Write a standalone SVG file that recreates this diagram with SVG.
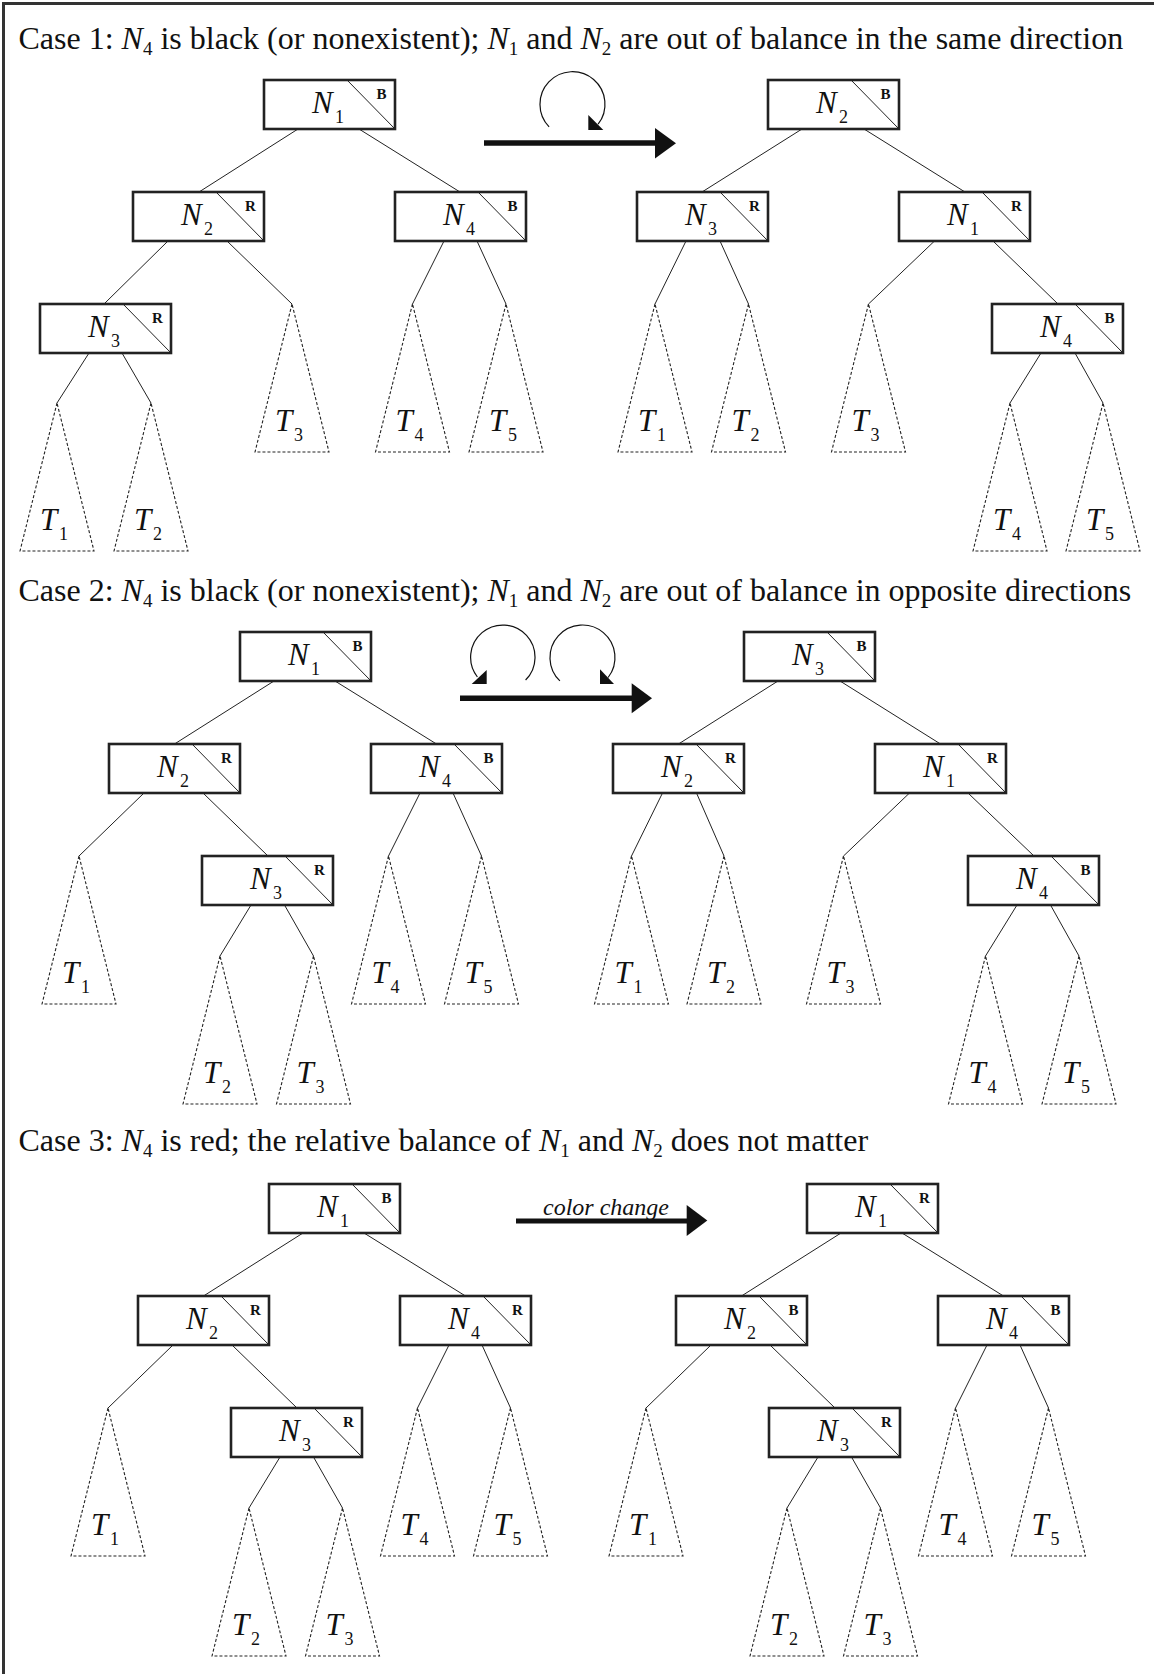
<svg xmlns="http://www.w3.org/2000/svg" width="1154" height="1674" viewBox="0 0 1154 1674">
<style>
.frame{fill:none;stroke:#333;stroke-width:3}
.box{fill:#fff;stroke:#222;stroke-width:2.6}
.diag{stroke:#222;stroke-width:1}
.edge{stroke:#222;stroke-width:1;fill:none}
.tri{fill:none;stroke:#222;stroke-width:1.1;stroke-dasharray:3 2}
.lbl{font-family:"Liberation Serif",serif;font-style:italic;font-size:31px;fill:#111}
.sub{font-family:"Liberation Serif",serif;font-style:normal;font-size:18px;fill:#111}
.col{font-family:"Liberation Serif",serif;font-weight:bold;font-size:15px;text-anchor:middle;fill:#111}
.title{font-family:"Liberation Serif",serif;font-size:32px;fill:#111}
.ts{font-size:19px}
.big{stroke:#111;stroke-width:5.5;fill:none}
.head{fill:#111}
.rot{stroke:#111;stroke-width:1.2;fill:none}
</style>
<defs>
<rect id="bx" class="box" width="131" height="49"/>
<line id="dg" class="diag" x1="83" y1="0" x2="131" y2="49"/>
<polygon id="tr" class="tri" points="0,0 -37,148 37,148"/>
</defs>
<rect class="frame" x="3.5" y="3.5" width="1170" height="1690"/>

<!-- Titles -->
<text class="title" x="18.5" y="48.5">Case 1: <tspan font-style="italic">N</tspan><tspan class="ts" dy="6">4</tspan><tspan dy="-6"> is black (or nonexistent); </tspan><tspan font-style="italic">N</tspan><tspan class="ts" dy="6">1</tspan><tspan dy="-6"> and </tspan><tspan font-style="italic">N</tspan><tspan class="ts" dy="6">2</tspan><tspan dy="-6"> are out of balance in the same direction</tspan></text>
<text class="title" x="18.5" y="600.5">Case 2: <tspan font-style="italic">N</tspan><tspan class="ts" dy="6">4</tspan><tspan dy="-6"> is black (or nonexistent); </tspan><tspan font-style="italic">N</tspan><tspan class="ts" dy="6">1</tspan><tspan dy="-6"> and </tspan><tspan font-style="italic">N</tspan><tspan class="ts" dy="6">2</tspan><tspan dy="-6"> are out of balance in opposite directions</tspan></text>
<text class="title" x="18.5" y="1151">Case 3: <tspan font-style="italic">N</tspan><tspan class="ts" dy="6">4</tspan><tspan dy="-6"> is red; the relative balance of </tspan><tspan font-style="italic">N</tspan><tspan class="ts" dy="6">1</tspan><tspan dy="-6"> and </tspan><tspan font-style="italic">N</tspan><tspan class="ts" dy="6">2</tspan><tspan dy="-6"> does not matter</tspan></text>

<!-- Transformation arrows -->
<g id="arrow1">
<line class="big" x1="484" y1="143" x2="657" y2="143"/>
<polygon class="head" points="655,128 676,143.3 655,158.5"/>
<path class="rot" d="M549.1 126.8 A32.5 32.5 0 1 1 598.1 124.2"/>
<polygon class="head" points="588.3,115 588.3,130 603.3,130"/>
</g>
<g id="arrow2">
<line class="big" x1="460" y1="698.3" x2="634" y2="698.3"/>
<polygon class="head" points="631.7,683.3 652,698.3 631.7,713.3"/>
<path class="rot" d="M525.6 680 A32.2 32.2 0 1 0 477.4 677"/>
<polygon class="head" points="486.7,670 486.7,684 471.7,684"/>
<path class="rot" d="M559.9 680.9 A32.5 32.5 0 1 1 608.1 677.5"/>
<polygon class="head" points="600,669.3 600,684 614,684"/>
</g>
<g id="arrow3">
<line class="big" x1="516" y1="1221" x2="689" y2="1221" style="stroke-width:4.8"/>
<polygon class="head" points="686.7,1205 707.3,1220.5 686.7,1236"/>
<text class="lbl" x="606" y="1215" style="font-size:24px;text-anchor:middle">color change</text>
</g>

<!-- Connectors -->
<g id="connectors" class="edge">
<line x1="298" y1="129" x2="199" y2="192"/>
<line x1="359" y1="129" x2="460" y2="192"/>
<line x1="168" y1="241" x2="104" y2="304"/>
<line x1="227" y1="241" x2="292" y2="304"/>
<line x1="89" y1="353" x2="57" y2="403"/>
<line x1="122" y1="353" x2="151" y2="403"/>
<line x1="444" y1="241" x2="412.5" y2="304"/>
<line x1="477" y1="241" x2="506" y2="304"/>

<line x1="802" y1="129" x2="702" y2="192"/>
<line x1="864" y1="129" x2="965" y2="192"/>
<line x1="686" y1="241" x2="655" y2="304"/>
<line x1="720" y1="241" x2="748.5" y2="304"/>
<line x1="934.5" y1="241" x2="868.5" y2="304"/>
<line x1="993" y1="241" x2="1058" y2="304"/>
<line x1="1041" y1="353" x2="1010" y2="403"/>
<line x1="1075" y1="353" x2="1103" y2="403"/>

<line x1="274" y1="681" x2="174.5" y2="744"/>
<line x1="335" y1="681" x2="436.5" y2="744"/>
<line x1="144" y1="793" x2="79" y2="856"/>
<line x1="203" y1="793" x2="268" y2="856"/>
<line x1="420" y1="793" x2="388.5" y2="856"/>
<line x1="453" y1="793" x2="481.5" y2="856"/>
<line x1="251" y1="905" x2="220" y2="956"/>
<line x1="284.5" y1="905" x2="313.5" y2="956"/>

<line x1="778" y1="681" x2="678.5" y2="744"/>
<line x1="840" y1="681" x2="940.5" y2="744"/>
<line x1="662.5" y1="793" x2="631.5" y2="856"/>
<line x1="696.5" y1="793" x2="724" y2="856"/>
<line x1="909.5" y1="793" x2="843.5" y2="856"/>
<line x1="968" y1="793" x2="1034" y2="856"/>
<line x1="1017" y1="905" x2="985.5" y2="956"/>
<line x1="1050.5" y1="905" x2="1079" y2="956"/>

<line x1="303" y1="1233" x2="203.5" y2="1296"/>
<line x1="364" y1="1233" x2="465.5" y2="1296"/>
<line x1="173" y1="1345" x2="108" y2="1408"/>
<line x1="232" y1="1345" x2="297" y2="1408"/>
<line x1="449" y1="1345" x2="417.5" y2="1408"/>
<line x1="482" y1="1345" x2="510.5" y2="1408"/>
<line x1="280" y1="1457" x2="249" y2="1508"/>
<line x1="313.5" y1="1457" x2="342.5" y2="1508"/>

<line x1="841" y1="1233" x2="741.5" y2="1296"/>
<line x1="902" y1="1233" x2="1003.5" y2="1296"/>
<line x1="711" y1="1345" x2="646" y2="1408"/>
<line x1="770" y1="1345" x2="835" y2="1408"/>
<line x1="987" y1="1345" x2="955.5" y2="1408"/>
<line x1="1020" y1="1345" x2="1048.5" y2="1408"/>
<line x1="818" y1="1457" x2="787" y2="1508"/>
<line x1="851.5" y1="1457" x2="880.5" y2="1508"/>
</g>

<!-- Case 1 left -->
<g id="c1L-N1" transform="translate(264,80)"><use href="#bx"/><use href="#dg"/><text class="lbl" x="48" y="33">N</text><text class="sub" x="71" y="42.5">1</text><text class="col" x="117.5" y="18.5">B</text></g>
<g id="c1L-N2" transform="translate(133,192)"><use href="#bx"/><use href="#dg"/><text class="lbl" x="48" y="33">N</text><text class="sub" x="71" y="42.5">2</text><text class="col" x="117.5" y="18.5">R</text></g>
<g id="c1L-N4" transform="translate(395,192)"><use href="#bx"/><use href="#dg"/><text class="lbl" x="48" y="33">N</text><text class="sub" x="71" y="42.5">4</text><text class="col" x="117.5" y="18.5">B</text></g>
<g id="c1L-N3" transform="translate(40,304)"><use href="#bx"/><use href="#dg"/><text class="lbl" x="48" y="33">N</text><text class="sub" x="71" y="42.5">3</text><text class="col" x="117.5" y="18.5">R</text></g>
<g id="c1L-T1" transform="translate(57,403)"><use href="#tr"/><text class="lbl" x="-17" y="127">T</text><text class="sub" x="2" y="137">1</text></g>
<g id="c1L-T2" transform="translate(151,403)"><use href="#tr"/><text class="lbl" x="-17" y="127">T</text><text class="sub" x="2" y="137">2</text></g>
<g id="c1L-T3" transform="translate(292,304)"><use href="#tr"/><text class="lbl" x="-17" y="127">T</text><text class="sub" x="2" y="137">3</text></g>
<g id="c1L-T4" transform="translate(412.5,304)"><use href="#tr"/><text class="lbl" x="-17" y="127">T</text><text class="sub" x="2" y="137">4</text></g>
<g id="c1L-T5" transform="translate(506,304)"><use href="#tr"/><text class="lbl" x="-17" y="127">T</text><text class="sub" x="2" y="137">5</text></g>

<!-- Case 1 right -->
<g id="c1R-N2" transform="translate(768,80)"><use href="#bx"/><use href="#dg"/><text class="lbl" x="48" y="33">N</text><text class="sub" x="71" y="42.5">2</text><text class="col" x="117.5" y="18.5">B</text></g>
<g id="c1R-N3" transform="translate(637,192)"><use href="#bx"/><use href="#dg"/><text class="lbl" x="48" y="33">N</text><text class="sub" x="71" y="42.5">3</text><text class="col" x="117.5" y="18.5">R</text></g>
<g id="c1R-N1" transform="translate(899,192)"><use href="#bx"/><use href="#dg"/><text class="lbl" x="48" y="33">N</text><text class="sub" x="71" y="42.5">1</text><text class="col" x="117.5" y="18.5">R</text></g>
<g id="c1R-N4" transform="translate(992,304)"><use href="#bx"/><use href="#dg"/><text class="lbl" x="48" y="33">N</text><text class="sub" x="71" y="42.5">4</text><text class="col" x="117.5" y="18.5">B</text></g>
<g id="c1R-T1" transform="translate(655,304)"><use href="#tr"/><text class="lbl" x="-17" y="127">T</text><text class="sub" x="2" y="137">1</text></g>
<g id="c1R-T2" transform="translate(748.5,304)"><use href="#tr"/><text class="lbl" x="-17" y="127">T</text><text class="sub" x="2" y="137">2</text></g>
<g id="c1R-T3" transform="translate(868.5,304)"><use href="#tr"/><text class="lbl" x="-17" y="127">T</text><text class="sub" x="2" y="137">3</text></g>
<g id="c1R-T4" transform="translate(1010,403)"><use href="#tr"/><text class="lbl" x="-17" y="127">T</text><text class="sub" x="2" y="137">4</text></g>
<g id="c1R-T5" transform="translate(1103,403)"><use href="#tr"/><text class="lbl" x="-17" y="127">T</text><text class="sub" x="2" y="137">5</text></g>

<!-- Case 2 left -->
<g id="c2L-N1" transform="translate(240,632)"><use href="#bx"/><use href="#dg"/><text class="lbl" x="48" y="33">N</text><text class="sub" x="71" y="42.5">1</text><text class="col" x="117.5" y="18.5">B</text></g>
<g id="c2L-N2" transform="translate(109,744)"><use href="#bx"/><use href="#dg"/><text class="lbl" x="48" y="33">N</text><text class="sub" x="71" y="42.5">2</text><text class="col" x="117.5" y="18.5">R</text></g>
<g id="c2L-N4" transform="translate(371,744)"><use href="#bx"/><use href="#dg"/><text class="lbl" x="48" y="33">N</text><text class="sub" x="71" y="42.5">4</text><text class="col" x="117.5" y="18.5">B</text></g>
<g id="c2L-N3" transform="translate(202,856)"><use href="#bx"/><use href="#dg"/><text class="lbl" x="48" y="33">N</text><text class="sub" x="71" y="42.5">3</text><text class="col" x="117.5" y="18.5">R</text></g>
<g id="c2L-T1" transform="translate(79,856)"><use href="#tr"/><text class="lbl" x="-17" y="127">T</text><text class="sub" x="2" y="137">1</text></g>
<g id="c2L-T2" transform="translate(220,956)"><use href="#tr"/><text class="lbl" x="-17" y="127">T</text><text class="sub" x="2" y="137">2</text></g>
<g id="c2L-T3" transform="translate(313.5,956)"><use href="#tr"/><text class="lbl" x="-17" y="127">T</text><text class="sub" x="2" y="137">3</text></g>
<g id="c2L-T4" transform="translate(388.5,856)"><use href="#tr"/><text class="lbl" x="-17" y="127">T</text><text class="sub" x="2" y="137">4</text></g>
<g id="c2L-T5" transform="translate(481.5,856)"><use href="#tr"/><text class="lbl" x="-17" y="127">T</text><text class="sub" x="2" y="137">5</text></g>

<!-- Case 2 right -->
<g id="c2R-N3" transform="translate(744,632)"><use href="#bx"/><use href="#dg"/><text class="lbl" x="48" y="33">N</text><text class="sub" x="71" y="42.5">3</text><text class="col" x="117.5" y="18.5">B</text></g>
<g id="c2R-N2" transform="translate(613,744)"><use href="#bx"/><use href="#dg"/><text class="lbl" x="48" y="33">N</text><text class="sub" x="71" y="42.5">2</text><text class="col" x="117.5" y="18.5">R</text></g>
<g id="c2R-N1" transform="translate(875,744)"><use href="#bx"/><use href="#dg"/><text class="lbl" x="48" y="33">N</text><text class="sub" x="71" y="42.5">1</text><text class="col" x="117.5" y="18.5">R</text></g>
<g id="c2R-N4" transform="translate(968,856)"><use href="#bx"/><use href="#dg"/><text class="lbl" x="48" y="33">N</text><text class="sub" x="71" y="42.5">4</text><text class="col" x="117.5" y="18.5">B</text></g>
<g id="c2R-T1" transform="translate(631.5,856)"><use href="#tr"/><text class="lbl" x="-17" y="127">T</text><text class="sub" x="2" y="137">1</text></g>
<g id="c2R-T2" transform="translate(724,856)"><use href="#tr"/><text class="lbl" x="-17" y="127">T</text><text class="sub" x="2" y="137">2</text></g>
<g id="c2R-T3" transform="translate(843.5,856)"><use href="#tr"/><text class="lbl" x="-17" y="127">T</text><text class="sub" x="2" y="137">3</text></g>
<g id="c2R-T4" transform="translate(985.5,956)"><use href="#tr"/><text class="lbl" x="-17" y="127">T</text><text class="sub" x="2" y="137">4</text></g>
<g id="c2R-T5" transform="translate(1079,956)"><use href="#tr"/><text class="lbl" x="-17" y="127">T</text><text class="sub" x="2" y="137">5</text></g>

<!-- Case 3 left -->
<g id="c3L-N1" transform="translate(269,1184)"><use href="#bx"/><use href="#dg"/><text class="lbl" x="48" y="33">N</text><text class="sub" x="71" y="42.5">1</text><text class="col" x="117.5" y="18.5">B</text></g>
<g id="c3L-N2" transform="translate(138,1296)"><use href="#bx"/><use href="#dg"/><text class="lbl" x="48" y="33">N</text><text class="sub" x="71" y="42.5">2</text><text class="col" x="117.5" y="18.5">R</text></g>
<g id="c3L-N4" transform="translate(400,1296)"><use href="#bx"/><use href="#dg"/><text class="lbl" x="48" y="33">N</text><text class="sub" x="71" y="42.5">4</text><text class="col" x="117.5" y="18.5">R</text></g>
<g id="c3L-N3" transform="translate(231,1408)"><use href="#bx"/><use href="#dg"/><text class="lbl" x="48" y="33">N</text><text class="sub" x="71" y="42.5">3</text><text class="col" x="117.5" y="18.5">R</text></g>
<g id="c3L-T1" transform="translate(108,1408)"><use href="#tr"/><text class="lbl" x="-17" y="127">T</text><text class="sub" x="2" y="137">1</text></g>
<g id="c3L-T2" transform="translate(249,1508)"><use href="#tr"/><text class="lbl" x="-17" y="127">T</text><text class="sub" x="2" y="137">2</text></g>
<g id="c3L-T3" transform="translate(342.5,1508)"><use href="#tr"/><text class="lbl" x="-17" y="127">T</text><text class="sub" x="2" y="137">3</text></g>
<g id="c3L-T4" transform="translate(417.5,1408)"><use href="#tr"/><text class="lbl" x="-17" y="127">T</text><text class="sub" x="2" y="137">4</text></g>
<g id="c3L-T5" transform="translate(510.5,1408)"><use href="#tr"/><text class="lbl" x="-17" y="127">T</text><text class="sub" x="2" y="137">5</text></g>

<!-- Case 3 right -->
<g id="c3R-N1" transform="translate(807,1184)"><use href="#bx"/><use href="#dg"/><text class="lbl" x="48" y="33">N</text><text class="sub" x="71" y="42.5">1</text><text class="col" x="117.5" y="18.5">R</text></g>
<g id="c3R-N2" transform="translate(676,1296)"><use href="#bx"/><use href="#dg"/><text class="lbl" x="48" y="33">N</text><text class="sub" x="71" y="42.5">2</text><text class="col" x="117.5" y="18.5">B</text></g>
<g id="c3R-N4" transform="translate(938,1296)"><use href="#bx"/><use href="#dg"/><text class="lbl" x="48" y="33">N</text><text class="sub" x="71" y="42.5">4</text><text class="col" x="117.5" y="18.5">B</text></g>
<g id="c3R-N3" transform="translate(769,1408)"><use href="#bx"/><use href="#dg"/><text class="lbl" x="48" y="33">N</text><text class="sub" x="71" y="42.5">3</text><text class="col" x="117.5" y="18.5">R</text></g>
<g id="c3R-T1" transform="translate(646,1408)"><use href="#tr"/><text class="lbl" x="-17" y="127">T</text><text class="sub" x="2" y="137">1</text></g>
<g id="c3R-T2" transform="translate(787,1508)"><use href="#tr"/><text class="lbl" x="-17" y="127">T</text><text class="sub" x="2" y="137">2</text></g>
<g id="c3R-T3" transform="translate(880.5,1508)"><use href="#tr"/><text class="lbl" x="-17" y="127">T</text><text class="sub" x="2" y="137">3</text></g>
<g id="c3R-T4" transform="translate(955.5,1408)"><use href="#tr"/><text class="lbl" x="-17" y="127">T</text><text class="sub" x="2" y="137">4</text></g>
<g id="c3R-T5" transform="translate(1048.5,1408)"><use href="#tr"/><text class="lbl" x="-17" y="127">T</text><text class="sub" x="2" y="137">5</text></g>
</svg>
